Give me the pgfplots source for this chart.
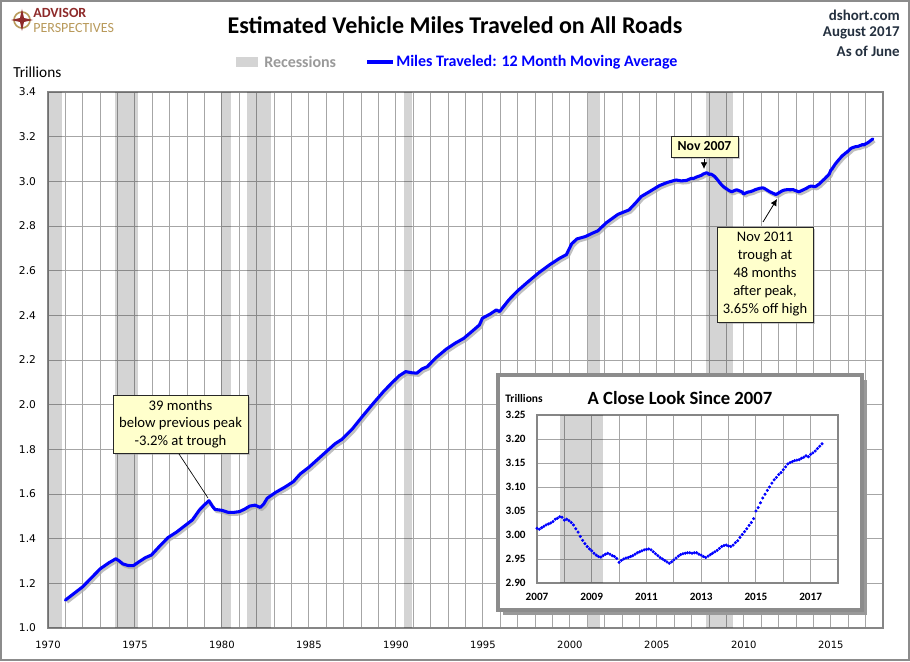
\documentclass[border=0pt]{standalone}
\usepackage{pgfplots}
\pgfplotsset{compat=1.18}
\usepackage{pgfplotstable}
\usepackage{fontspec}
\setmainfont{Carlito}
\newfontfamily\dejavu{DejaVu Sans}
\usetikzlibrary{shadows,arrows.meta}
\definecolor{gridgray}{HTML}{A6A6A6}
\definecolor{axisgray}{HTML}{868686}
\definecolor{recgray}{HTML}{D4D4D4}
\definecolor{framegray}{HTML}{8C8C8C}
\definecolor{notefill}{HTML}{FFFFCC}
\definecolor{navy}{HTML}{24303F}
\definecolor{adred}{HTML}{8E2A2A}
\definecolor{adgold}{HTML}{B99A5B}
\definecolor{vblue}{HTML}{0000FF}
\definecolor{leggray}{HTML}{9A9A9A}

\pgfplotstableread{
x y
1971.0 1.125
1971.5 1.155
1972.0 1.185
1972.5 1.225
1973.0 1.265
1973.5 1.292
1973.9 1.310
1974.1 1.300
1974.3 1.287
1974.6 1.280
1974.9 1.279
1975.3 1.300
1975.6 1.315
1975.95 1.327
1976.4 1.365
1976.9 1.405
1977.4 1.430
1977.9 1.460
1978.3 1.484
1978.7 1.528
1979.0 1.552
1979.25 1.570
1979.45 1.545
1979.6 1.531
1980.0 1.527
1980.35 1.518
1980.7 1.518
1981.0 1.521
1981.3 1.532
1981.6 1.546
1981.9 1.550
1982.2 1.540
1982.4 1.555
1982.6 1.581
1983.1 1.608
1983.6 1.630
1984.1 1.655
1984.5 1.690
1985.0 1.720
1985.5 1.755
1986.0 1.790
1986.5 1.825
1986.9 1.845
1987.5 1.892
1988.1 1.950
1988.7 2.006
1989.3 2.060
1989.8 2.100
1990.2 2.130
1990.56 2.148
1990.9 2.143
1991.2 2.141
1991.5 2.160
1991.8 2.170
1992.3 2.210
1992.9 2.249
1993.4 2.275
1993.9 2.297
1994.4 2.330
1994.8 2.357
1994.97 2.387
1995.4 2.405
1995.77 2.424
1995.96 2.417
1996.5 2.470
1997.0 2.510
1997.5 2.544
1998.2 2.590
1998.83 2.626
1999.4 2.655
1999.8 2.672
2000.1 2.720
2000.4 2.742
2000.9 2.753
2001.3 2.768
2001.6 2.778
2002.1 2.815
2002.76 2.852
2003.4 2.872
2003.8 2.905
2004.1 2.932
2004.6 2.955
2005.15 2.981
2005.6 2.995
2006.1 3.006
2006.4 3.002
2006.7 3.004
2007.0 3.014
}\early

\pgfplotstableread{
x y
2007.000 3.014
2007.083 3.012
2007.167 3.015
2007.250 3.018
2007.333 3.021
2007.417 3.023
2007.500 3.025
2007.583 3.028
2007.667 3.033
2007.750 3.035
2007.833 3.038
2007.917 3.037
2008.000 3.031
2008.083 3.033
2008.167 3.030
2008.250 3.026
2008.333 3.021
2008.417 3.013
2008.500 3.006
2008.583 2.997
2008.667 2.989
2008.750 2.982
2008.833 2.976
2008.917 2.971
2009.000 2.967
2009.083 2.962
2009.167 2.958
2009.250 2.955
2009.333 2.954
2009.417 2.957
2009.500 2.960
2009.583 2.962
2009.667 2.960
2009.750 2.957
2009.833 2.955
2009.917 2.951
2010.000 2.943
2010.083 2.947
2010.167 2.950
2010.250 2.952
2010.333 2.953
2010.417 2.955
2010.500 2.957
2010.583 2.960
2010.667 2.963
2010.750 2.965
2010.833 2.967
2010.917 2.969
2011.000 2.970
2011.083 2.971
2011.167 2.969
2011.250 2.965
2011.333 2.961
2011.417 2.957
2011.500 2.953
2011.583 2.950
2011.667 2.947
2011.750 2.944
2011.833 2.941
2011.917 2.944
2012.000 2.948
2012.083 2.952
2012.167 2.956
2012.250 2.959
2012.333 2.961
2012.417 2.962
2012.500 2.963
2012.583 2.963
2012.667 2.962
2012.750 2.963
2012.833 2.963
2012.917 2.960
2013.000 2.958
2013.083 2.955
2013.167 2.953
2013.250 2.956
2013.333 2.959
2013.417 2.962
2013.500 2.965
2013.583 2.968
2013.667 2.972
2013.750 2.976
2013.833 2.978
2013.917 2.979
2014.000 2.977
2014.083 2.976
2014.167 2.979
2014.250 2.984
2014.333 2.988
2014.417 2.995
2014.500 3.001
2014.583 3.007
2014.667 3.013
2014.750 3.020
2014.833 3.026
2014.917 3.034
2015.000 3.050
2015.083 3.057
2015.167 3.067
2015.250 3.077
2015.333 3.085
2015.417 3.093
2015.500 3.100
2015.583 3.108
2015.667 3.115
2015.750 3.120
2015.833 3.126
2015.917 3.130
2016.000 3.136
2016.083 3.142
2016.167 3.148
2016.250 3.151
2016.333 3.153
2016.417 3.155
2016.500 3.156
2016.583 3.157
2016.667 3.160
2016.750 3.162
2016.833 3.165
2016.917 3.163
2017.000 3.168
2017.083 3.171
2017.167 3.175
2017.250 3.180
2017.333 3.185
2017.417 3.190
}\since

\begin{document}
\begin{tikzpicture}
\begin{scope}[x=0.75pt,y=0.75pt]
\fill[white] (0,0) rectangle (910,661);
\end{scope}

% ---------- main axis ----------
\begin{axis}[
  at={(36pt,24.75pt)}, anchor=south west, scale only axis,
  width=626.25pt, height=402pt,
  xmin=1970, xmax=2018, ymin=1, ymax=3.4,
  xtick={1970,1975,1980,1985,1990,1995,2000,2005,2010,2015},
  minor xtick={1971,1972,1973,1974,1976,1977,1978,1979,1981,1982,1983,1984,1986,1987,1988,1989,1991,1992,1993,1994,1996,1997,1998,1999,2001,2002,2003,2004,2006,2007,2008,2009,2011,2012,2013,2014,2016,2017,2018},
  ytick={1.0,1.2,1.4,1.6,1.8,2.0,2.2,2.4,2.6,2.8,3.0,3.2,3.4},
  xmajorgrids, xminorgrids, ymajorgrids,
  major grid style={draw=gridgray, line width=0.75pt},
  minor grid style={draw=gridgray, line width=0.75pt},
  axis line style={draw=axisgray, line width=0.9pt},
  major tick length=0pt, minor tick length=0pt,
  /pgf/number format/assume math mode=true,
  /pgf/number format/1000 sep={},
  xticklabel style={font=\dejavu\fontsize{7.5}{9}\selectfont, yshift=-6pt},
  yticklabel style={font=\dejavu\fontsize{8}{9}\selectfont, xshift=-5.5pt,
     /pgf/number format/fixed, /pgf/number format/fixed zerofill, /pgf/number format/precision=1},
]
\addplot[draw=none, fill=black, fill opacity=0.17] coordinates {(1970,1)(1970,3.4)(1970.83,3.4)(1970.83,1)};
\addplot[draw=none, fill=black, fill opacity=0.17] coordinates {(1973.83,1)(1973.83,3.4)(1975.2,3.4)(1975.2,1)};
\addplot[draw=none, fill=black, fill opacity=0.17] coordinates {(1979.97,1)(1979.97,3.4)(1980.5,3.4)(1980.5,1)};
\addplot[draw=none, fill=black, fill opacity=0.17] coordinates {(1981.45,1)(1981.45,3.4)(1982.8,3.4)(1982.8,1)};
\addplot[draw=none, fill=black, fill opacity=0.17] coordinates {(1990.45,1)(1990.45,3.4)(1990.95,3.4)(1990.95,1)};
\addplot[draw=none, fill=black, fill opacity=0.17] coordinates {(2001.05,1)(2001.05,3.4)(2001.75,3.4)(2001.75,1)};
\addplot[draw=none, fill=black, fill opacity=0.17] coordinates {(2007.85,1)(2007.85,3.4)(2009.4,3.4)(2009.4,1)};
% shadow
\addplot[black!35, line width=2.3pt, xshift=1.3pt, yshift=-1.6pt, line join=round, opacity=0.7] table {\early};
\addplot[black!35, line width=2.3pt, xshift=1.3pt, yshift=-1.6pt, line join=round, opacity=0.7] table {\since};
% line
\addplot[vblue, line width=2.3pt, line join=round, line cap=round] table {\early};
\addplot[vblue, line width=2.3pt, line join=round, line cap=round] table {\since};
\end{axis}

\begin{scope}[x=0.75pt,y=0.75pt]
% ---------- header ----------
\draw[adgold, line width=1.2pt] (22,641) circle (8);
\fill[adred] (22,652) -- (24,643) -- (33,641) -- (24,639) -- (22,630) -- (20,639) -- (11,641) -- (20,643) -- cycle;
\node[anchor=west, align=left, inner sep=0, font=\fontsize{10.5}{11.5}\selectfont] at (33,640.5)
  {{\color{adred}\bfseries ADVISOR}\\{\color{adgold}PERSPECTIVES}};

\node[font=\bfseries\fontsize{18}{20}\selectfont, inner sep=0] at (455,636) {Estimated Vehicle Miles Traveled on All Roads};

\node[anchor=east, font=\bfseries\fontsize{11.2}{12}\selectfont, text=navy, inner sep=0] at (900,646) {dshort.com};
\node[anchor=east, font=\bfseries\fontsize{11.2}{12}\selectfont, text=navy, inner sep=0] at (900,628) {August 2017};
\node[anchor=east, font=\bfseries\fontsize{11.2}{12}\selectfont, text=navy, inner sep=0] at (900,610) {As of June};

\fill[recgray] (236,594) rectangle (258,604);
\node[anchor=west, font=\bfseries\fontsize{12}{12}\selectfont, text=leggray, inner sep=0] at (264,599) {Recessions};
\draw[vblue, line width=2.3pt] (367,599) -- (393,599);
\node[anchor=west, font=\bfseries\fontsize{12}{12}\selectfont, text=vblue, inner sep=0] at (396,599) {Miles Traveled: 12 Month Moving Average};

\node[anchor=west, font=\fontsize{11.5}{12}\selectfont, inner sep=0] at (13,589) {Trillions};

% ---------- annotations ----------
\node[fill=notefill, draw=black!85, line width=0.6pt, minimum width=50.25pt, minimum height=15.75pt, inner sep=0,
  drop shadow={shadow xshift=1.8pt, shadow yshift=-1.8pt, fill=black!40}, font=\bfseries\fontsize{10.3}{12}\selectfont]
  at (704.5,514.5) {Nov 2007};
\draw[line width=0.6pt, -{Latex[length=5pt,width=5pt]}] (704,502) -- (704,492);

\node[fill=notefill, draw=black!85, line width=0.6pt, minimum width=72pt, minimum height=71.25pt, inner sep=0, align=center,
  drop shadow={shadow xshift=1.8pt, shadow yshift=-1.8pt, fill=black!40}, font=\fontsize{10.9}{13.5}\selectfont]
  at (765,386.5) {Nov 2011\\trough at\\48 months\\after peak,\\3.65\% off high};
\draw[line width=0.6pt, -{Latex[length=5pt,width=5pt]}] (763,439) -- (777,462);

\node[fill=notefill, draw=black!85, line width=0.6pt, minimum width=101.25pt, minimum height=43.5pt, inner sep=0, align=center,
  drop shadow={shadow xshift=1.8pt, shadow yshift=-1.8pt, fill=black!40}, font=\fontsize{11}{13.35}\selectfont]
  at (180.5,237) {39 months\\below previous peak\\-3.2\% at trough};
\draw[line width=0.5pt] (179,207) -- (208,163);

% ---------- inset frame ----------
\fill[black!40] (503,46) rectangle (867,281);
\filldraw[fill=white, draw=framegray, line width=2.4pt] (498,51) rectangle (862,286);
\node[font=\bfseries\fontsize{8.6}{10}\selectfont, inner sep=0] at (524,262) {Trillions};
\node[font=\bfseries\fontsize{14}{16}\selectfont, inner sep=0] at (680,263) {A Close Look Since 2007};
\end{scope}

\begin{axis}[
  at={(402.75pt,58.5pt)}, anchor=south west, scale only axis,
  width=225.75pt, height=126pt,
  xmin=2007, xmax=2018, ymin=2.9, ymax=3.25,
  xtick={2007,2009,2011,2013,2015,2017},
  minor xtick={2008,2010,2012,2014,2016,2018},
  ytick={2.90,2.95,3.00,3.05,3.10,3.15,3.20,3.25},
  xmajorgrids, xminorgrids, ymajorgrids,
  major grid style={draw=gridgray, line width=0.75pt},
  minor grid style={draw=gridgray, line width=0.75pt},
  axis line style={draw=axisgray, line width=0.9pt},
  major tick length=0pt, minor tick length=0pt,
  /pgf/number format/assume math mode=true,
  /pgf/number format/1000 sep={},
  xticklabel style={font=\bfseries\fontsize{8.4}{9}\selectfont, yshift=-4pt},
  yticklabel style={font=\bfseries\fontsize{8.4}{9}\selectfont, xshift=-5pt,
     /pgf/number format/fixed, /pgf/number format/fixed zerofill, /pgf/number format/precision=2},
]
\addplot[draw=none, fill=black, fill opacity=0.17] coordinates {(2007.85,2.9)(2007.85,3.25)(2009.4,3.25)(2009.4,2.9)};
\addplot[only marks, mark=*, mark size=0.95pt, color=vblue, mark options={draw=vblue, fill=vblue}] table {\since};
\end{axis}

\begin{scope}[x=0.75pt,y=0.75pt]
\draw[framegray, line width=1.5pt] (1,1) rectangle (909,660);
\end{scope}
\end{tikzpicture}
\end{document}
